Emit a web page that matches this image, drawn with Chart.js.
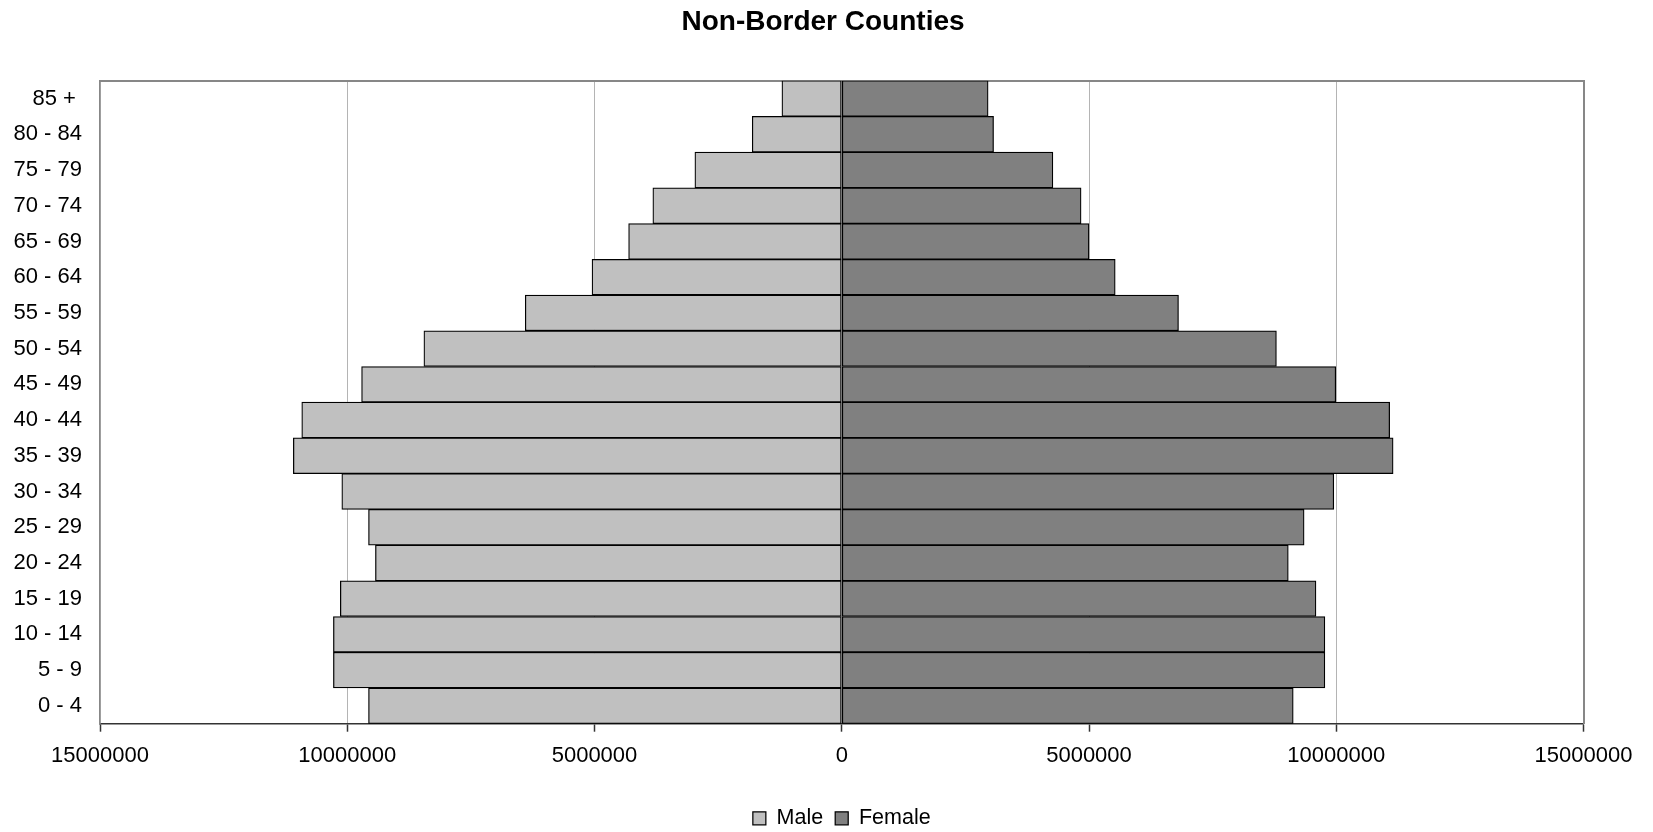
<!DOCTYPE html>
<html>
<head>
<meta charset="utf-8">
<title>Non-Border Counties</title>
<script src="https://cdn.jsdelivr.net/npm/chart.js@4.4.1/dist/chart.umd.min.js"></script>
<style>
  html, body { margin: 0; padding: 0; background: #ffffff; }
  canvas { display: block; }
</style>
</head>
<body>
<canvas id="pyramid" width="1653" height="832"></canvas>
<script>
// Age groups, youngest first (drawn bottom to top)
const ageGroups = ['0 - 4', '5 - 9', '10 - 14', '15 - 19', '20 - 24', '25 - 29', '30 - 34',
  '35 - 39', '40 - 44', '45 - 49', '50 - 54', '55 - 59', '60 - 64', '65 - 69',
  '70 - 74', '75 - 79', '80 - 84', '85 + '];

// Population by age group
const malePop = [9570000, 10280000, 10280000, 10140000, 9430000, 9570000, 10110000,
  11090000, 10920000, 9710000, 8450000, 6400000, 5050000, 4310000,
  3820000, 2970000, 1810000, 1210000];
const femalePop = [9130000, 9770000, 9770000, 9590000, 9030000, 9350000, 9950000,
  11150000, 11080000, 9990000, 8790000, 6810000, 5530000, 5000000,
  4840000, 4270000, 3070000, 2960000];

// Value axis extent and tick step
const axisLimit = 15000000;
const axisStep = 5000000;

const FONT = "'Liberation Sans', Arial, Helvetica, sans-serif";
Chart.defaults.font.family = FONT;
Chart.defaults.color = '#000000';

const frameColor = '#878787';

new Chart(document.getElementById('pyramid'), {
  type: 'bar',
  data: {
    labels: ageGroups,
    datasets: [
      {
        label: 'Male',
        data: malePop.map(v => -v),   // males extend to the left
        backgroundColor: '#c0c0c0',
        borderColor: '#000000',
        borderWidth: 1.25,
        borderSkipped: false,
        xAxisID: 'x',
        yAxisID: 'y'
      },
      {
        label: 'Female',
        data: femalePop,
        backgroundColor: '#808080',
        borderColor: '#000000',
        borderWidth: 1.25,
        borderSkipped: false,
        xAxisID: 'x',
        yAxisID: 'y'
      }
    ]
  },
  options: {
    indexAxis: 'y',
    responsive: false,
    animation: false,
    layout: { padding: { top: 0, left: 0, right: 7, bottom: 0 } },
    datasets: {
      bar: { barPercentage: 1, categoryPercentage: 1 }
    },
    scales: {
      x: {
        type: 'linear',
        position: 'bottom',
        stacked: true,
        min: -axisLimit,
        max: axisLimit,
        ticks: {
          stepSize: axisStep,
          padding: 11.5,
          font: { size: 22 },
          color: '#000000',
          maxRotation: 0,
          callback: v => String(Math.abs(v))
        },
        grid: {
          color: c => (c.tick && Math.abs(c.tick.value) === axisLimit) ? 'rgba(0,0,0,0)' : '#b4b4b4',
          lineWidth: 1,
          tickLength: 8,
          tickColor: '#333333',
          tickWidth: 1.5
        },
        border: { display: true, color: '#333333', width: 1.5 },
        afterFit: s => { s.height = 71.8; }
      },
      y: {
        type: 'category',
        position: 'left',
        stacked: true,
        reverse: true,
        offset: true,
        ticks: { padding: 18, font: { size: 22 }, color: '#000000' },
        grid: { display: false, drawTicks: false },
        border: { display: true, color: frameColor, width: 1.8 },
        afterFit: s => { s.width = 100; }
      },
      // top frame edge
      xTop: {
        type: 'linear',
        position: 'top',
        display: true,
        ticks: { display: false },
        grid: { display: false, drawTicks: false },
        border: { display: true, color: frameColor, width: 2 },
        afterFit: s => { s.height = 0; }
      },
      // right frame edge and right margin
      yRight: {
        type: 'linear',
        position: 'right',
        display: true,
        ticks: { display: false },
        grid: { display: false, drawTicks: false },
        border: { display: true, color: frameColor, width: 2 },
        afterFit: s => { s.width = 62.5; }
      }
    },
    plugins: {
      title: {
        display: true,
        text: 'Non-Border Counties',
        color: '#000000',
        font: { size: 28, weight: 'bold', family: FONT },
        padding: { top: 5.2, bottom: 41.9 }
      },
      legend: {
        display: true,
        position: 'bottom',
        fullSize: false,
        maxHeight: 36.5,
        labels: {
          boxWidth: 13,
          boxHeight: 13,
          padding: 12,
          color: '#000000',
          font: { size: 21.5, family: FONT }
        }
      },
      tooltip: { enabled: false }
    }
  }
});
</script>
</body>
</html>
